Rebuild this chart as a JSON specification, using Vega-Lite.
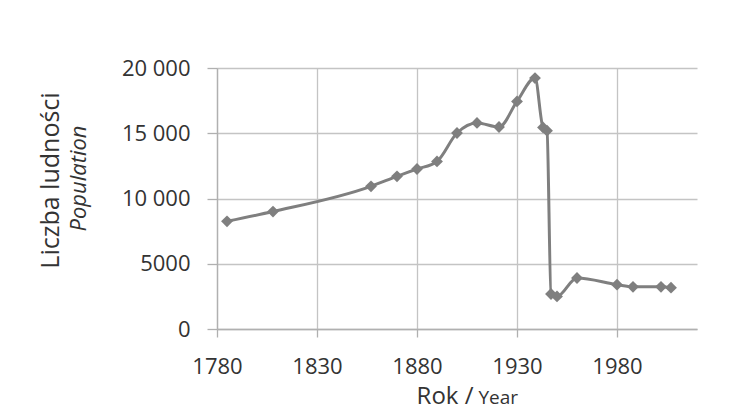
{
  "$schema": "https://vega.github.io/schema/vega-lite/v6.json",
  "width": 480,
  "height": 261,
  "autosize": "none",
  "padding": {"left": 217, "top": 68, "right": 33, "bottom": 83},
  "background": "white",
  "config": {
    "font": "Open Sans",
    "view": {"stroke": null},
    "axis": {
      "labelFont": "Open Sans",
      "titleFont": "Open Sans",
      "labelColor": "#333333",
      "titleColor": "#333333",
      "titleFontWeight": "normal",
      "gridColor": "#c4c4c4",
      "gridWidth": 1.3,
      "domainColor": "#b0b0b0",
      "domainWidth": 1.3,
      "tickColor": "#b0b0b0",
      "tickWidth": 1.3
    }
  },
  "data": {
    "values": [
      {"year": 1785, "population": 8250},
      {"year": 1808, "population": 9000},
      {"year": 1857, "population": 10930},
      {"year": 1870, "population": 11700},
      {"year": 1880, "population": 12260},
      {"year": 1890, "population": 12840},
      {"year": 1900, "population": 15020},
      {"year": 1910, "population": 15790},
      {"year": 1921, "population": 15480},
      {"year": 1930, "population": 17440},
      {"year": 1939, "population": 19230},
      {"year": 1943, "population": 15450},
      {"year": 1945, "population": 15200},
      {"year": 1947, "population": 2680},
      {"year": 1950, "population": 2500},
      {"year": 1960, "population": 3910},
      {"year": 1980, "population": 3400},
      {"year": 1988, "population": 3230},
      {"year": 2002, "population": 3230},
      {"year": 2007, "population": 3170}
    ]
  },
  "layer": [
    {
      "mark": {
        "type": "line",
        "color": "#7f7f7f",
        "strokeWidth": 3,
        "interpolate": "monotone",
        "point": {"shape": "diamond", "size": 140, "filled": true, "color": "#7f7f7f", "opacity": 1}
      },
      "encoding": {
        "x": {
          "field": "year",
          "type": "quantitative",
          "scale": {"domain": [1780, 2020], "nice": false, "zero": false},
          "axis": {
            "values": [1780, 1830, 1880, 1930, 1980],
            "format": "d",
            "labelFontSize": 22,
            "labelPadding": 19,
            "tickSize": 8,
            "labelFlush": false,
            "title": "Rok /",
            "titleFontSize": 24,
            "titleX": 256,
            "titleY": 74,
            "titleAlign": "right",
            "titleBaseline": "alphabetic"
          }
        },
        "y": {
          "field": "population",
          "type": "quantitative",
          "scale": {"domain": [0, 20000], "nice": false},
          "axis": {
            "values": [0, 5000, 10000, 15000, 20000],
            "labelExpr": "datum.value >= 10000 ? format(datum.value / 1000, 'd') + ' 000' : format(datum.value, 'd')",
            "labelFontSize": 22,
            "labelPadding": 17,
            "tickSize": 10,
            "labelFlush": false,
            "title": "Population",
            "titleFontStyle": "italic",
            "titleFontSize": 22,
            "titleAngle": -90,
            "titleX": -132,
            "titleY": 110,
            "titleAlign": "center",
            "titleBaseline": "alphabetic"
          }
        }
      }
    },
    {
      "mark": {"type": "point", "opacity": 0},
      "encoding": {
        "x": {
          "field": "year",
          "type": "quantitative",
          "scale": {"domain": [1780, 2020], "nice": false, "zero": false},
          "axis": {
            "orient": "bottom",
            "labels": false,
            "ticks": false,
            "domain": false,
            "grid": false,
            "title": "Year",
            "titleFontSize": 19,
            "titleX": 261,
            "titleY": 74,
            "titleAlign": "left",
            "titleBaseline": "alphabetic"
          }
        },
        "y": {
          "field": "population",
          "type": "quantitative",
          "scale": {"domain": [0, 20000], "nice": false},
          "axis": {
            "orient": "left",
            "labels": false,
            "ticks": false,
            "domain": false,
            "grid": false,
            "title": "Liczba ludności",
            "titleFontSize": 25,
            "titleAngle": -90,
            "titleX": -159,
            "titleY": 112,
            "titleAlign": "center",
            "titleBaseline": "alphabetic"
          }
        }
      }
    }
  ],
  "resolve": {
    "scale": {"x": "independent", "y": "independent"},
    "axis": {"x": "independent", "y": "independent"}
  }
}
